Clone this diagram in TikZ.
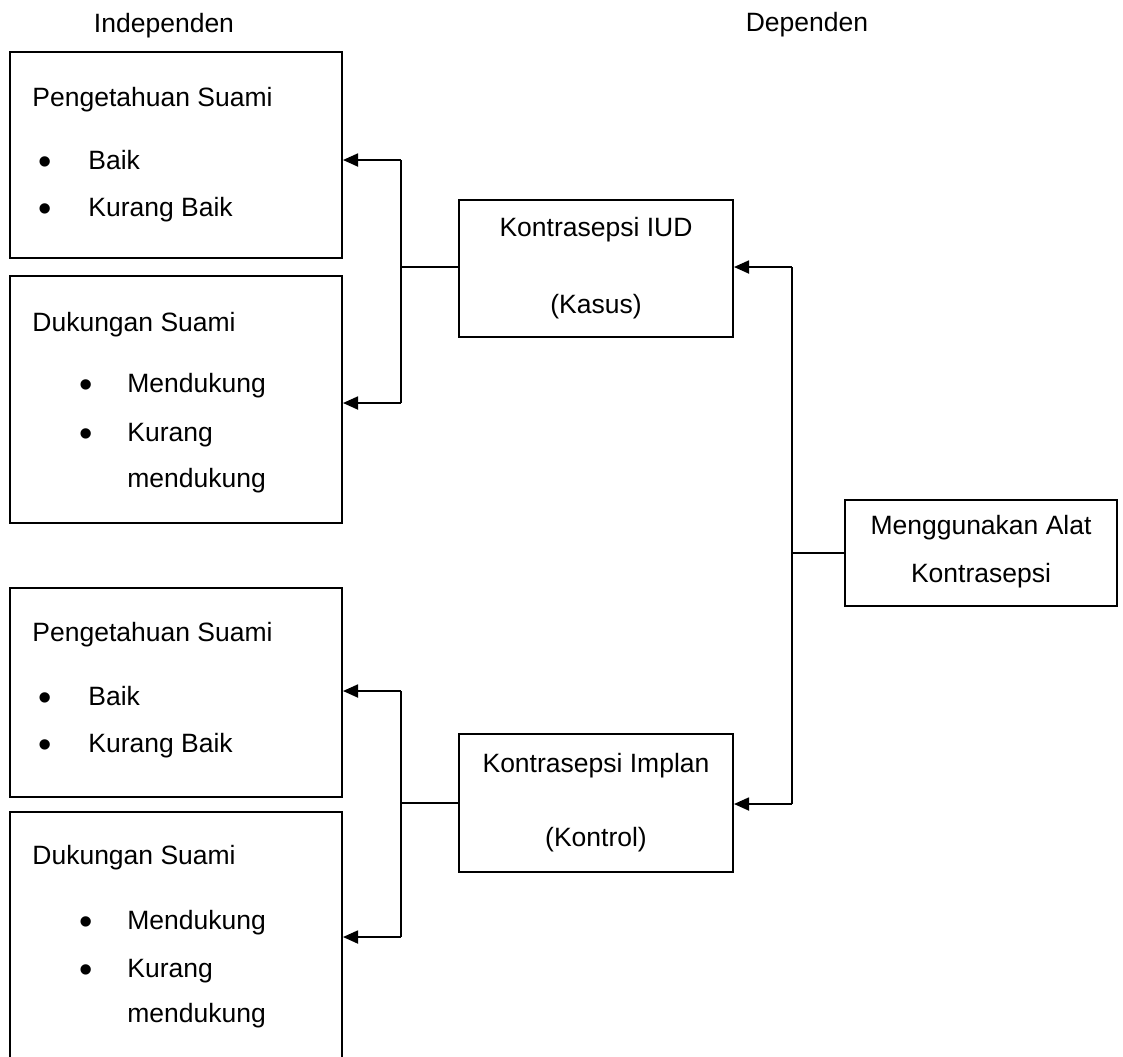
\documentclass[tikz,border=0pt]{standalone}
\usepackage{fontspec}
\setmainfont{Liberation Sans}
\usetikzlibrary{arrows.meta}

\begin{document}
\begin{tikzpicture}[
  x=0.5pt, y=-0.5pt,
  box/.style={rectangle, draw, line width=1pt, inner sep=0pt},
  txt/.style={inner sep=0pt, font=\fontsize{13.25}{16}\selectfont},
  dot/.style={inner sep=0pt, font=\fontsize{19}{20}\selectfont},
  link/.style={line width=0.9pt},
  arrow/.style={line width=0.9pt, -{Triangle[length=7.5pt, width=6.5pt]}}
]
  \clip (0,0) rectangle (1123,1056);

  % headers
  \node[txt, anchor=base] (indep) at (164, 32) {Independen};
  \node[txt, anchor=base] (dep) at (807, 31) {Dependen};

  % boxes on the left
  \node[box, minimum width=166pt, minimum height=103pt] (pengA) at (176, 155) {};
  \node[box, minimum width=166pt, minimum height=123.5pt] (dukA) at (176, 399.5) {};
  \node[box, minimum width=166pt, minimum height=104.5pt] (pengB) at (176, 692.5) {};
  \node[box, minimum width=166pt, minimum height=129pt] (dukB) at (176, 941) {};

  % boxes in the middle and on the right
  \node[box, minimum width=137pt, minimum height=68.5pt] (kasus) at (596, 268.5) {};
  \node[box, minimum width=137pt, minimum height=69pt] (kontrol) at (596, 803) {};
  \node[box, minimum width=136pt, minimum height=53pt] (guna) at (981, 553) {};

  % texts of the left boxes
  \node[txt, anchor=base west] (pengA-h) at (32, 106) {Pengetahuan Suami};
  \node[dot] (pengA-b1) at (45, 166) {\textbullet};
  \node[txt, anchor=base west] (pengA-i1) at (88, 169) {Baik};
  \node[dot] (pengA-b2) at (45, 213) {\textbullet};
  \node[txt, anchor=base west] (pengA-i2) at (88, 216) {Kurang Baik};

  \node[txt, anchor=base west] (dukA-h) at (32, 331) {Dukungan Suami};
  \node[dot] (dukA-b1) at (86, 389) {\textbullet};
  \node[txt, anchor=base west] (dukA-i1) at (127, 392) {Mendukung};
  \node[dot] (dukA-b2) at (86, 438) {\textbullet};
  \node[txt, anchor=base west] (dukA-i2) at (127, 441) {Kurang};
  \node[txt, anchor=base west] (dukA-i3) at (127, 487) {mendukung};

  \node[txt, anchor=base west] (pengB-h) at (32, 641) {Pengetahuan Suami};
  \node[dot] (pengB-b1) at (45, 702) {\textbullet};
  \node[txt, anchor=base west] (pengB-i1) at (88, 705) {Baik};
  \node[dot] (pengB-b2) at (45, 749) {\textbullet};
  \node[txt, anchor=base west] (pengB-i2) at (88, 752) {Kurang Baik};

  \node[txt, anchor=base west] (dukB-h) at (32, 864) {Dukungan Suami};
  \node[dot] (dukB-b1) at (86, 926) {\textbullet};
  \node[txt, anchor=base west] (dukB-i1) at (127, 929) {Mendukung};
  \node[dot] (dukB-b2) at (86, 974) {\textbullet};
  \node[txt, anchor=base west] (dukB-i2) at (127, 977) {Kurang};
  \node[txt, anchor=base west] (dukB-i3) at (127, 1022) {mendukung};

  % texts of the other boxes
  \node[txt, anchor=base] (kasus-t1) at (596, 236) {Kontrasepsi IUD};
  \node[txt, anchor=base] (kasus-t2) at (596, 313) {(Kasus)};
  \node[txt, anchor=base] (kontrol-t1) at (596, 772) {Kontrasepsi Implan};
  \node[txt, anchor=base] (kontrol-t2) at (596, 846) {(Kontrol)};
  \node[txt, anchor=base] (guna-t1) at (981, 534) {Menggunakan Alat};
  \node[txt, anchor=base] (guna-t2) at (981, 582) {Kontrasepsi};

  % bus lines
  \coordinate (busA1) at (401, 160);
  \coordinate (busA2) at (401, 403);
  \coordinate (busB1) at (401, 691);
  \coordinate (busB2) at (401, 937);
  \coordinate (busR1) at (792, 267);
  \coordinate (busR2) at (792, 804);

  \draw[link] (busA1) -- (busA2);
  \draw[link] (busB1) -- (busB2);
  \draw[link] (busR1) -- (busR2);

  \draw[arrow] (busA1) -- (busA1 -| pengA.east);
  \draw[arrow] (busA2) -- (busA2 -| dukA.east);
  \draw[arrow] (busB1) -- (busB1 -| pengB.east);
  \draw[arrow] (busB2) -- (busB2 -| dukB.east);
  \draw[arrow] (busR1) -- (busR1 -| kasus.east);
  \draw[arrow] (busR2) -- (busR2 -| kontrol.east);

  \draw[link] (kasus.west |- 0,267) -- (busA1 |- 0,267);
  \draw[link] (kontrol.west) -- (kontrol.west -| busB1);
  \draw[link] (guna.west) -- (guna.west -| busR1);
\end{tikzpicture}
\end{document}
